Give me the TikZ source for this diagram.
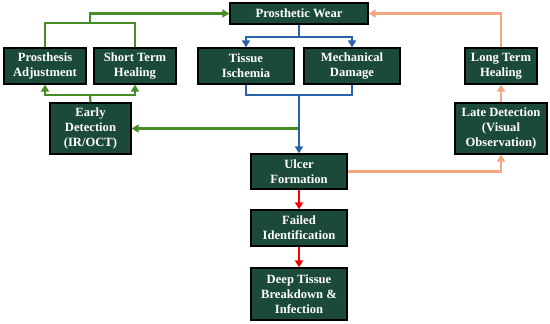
\documentclass[tikz,border=0pt]{standalone}
\usepackage{fontspec}
\setmainfont{Liberation Serif}
\usepackage{xcolor}
\usetikzlibrary{positioning,arrows.meta,calc}

\definecolor{boxGreen}{RGB}{28,74,56}
\definecolor{lineGreen}{RGB}{72,140,40}
\definecolor{lineBlue}{RGB}{40,98,168}
\definecolor{lineOrange}{RGB}{244,166,128}
\definecolor{lineRed}{RGB}{255,0,0}

\begin{document}
\begin{tikzpicture}[
  x=1pt, y=-1pt,
  stageBox/.style={draw=black, line width=1.2pt, fill=boxGreen, text=white,
                   font=\fontsize{12.6}{15}\selectfont\bfseries, align=center,
                   inner sep=0pt},
  flow/.style={line width=2.2pt},
  arr/.style={flow, -{Triangle[length=7pt,width=8pt]}},
  greenFlow/.style={color=lineGreen},
  blueFlow/.style={color=lineBlue},
  orangeFlow/.style={color=lineOrange},
  redFlow/.style={color=lineRed}
]
  \useasboundingbox (0,0) rectangle (550,324);

  % Top of the loop
  \node[stageBox, minimum width=138pt, minimum height=21pt] (wear) at (299,13.5) {Prosthetic Wear};

  % Second row
  \node[stageBox, minimum width=82pt, minimum height=36pt] (adj) at (45,66) {Prosthesis\\Adjustment};
  \node[stageBox, minimum width=82pt, minimum height=36pt] (sth) at (135,66) {Short Term\\Healing};
  \node[stageBox, minimum width=96pt, minimum height=36pt] (isch) at (246,66) {Tissue\\Ischemia};
  \node[stageBox, minimum width=96pt, minimum height=36pt] (mech) at (352,66) {Mechanical\\Damage};
  \node[stageBox, minimum width=72pt, minimum height=36pt] (lth) at (501,66) {Long Term\\Healing};

  % Detection
  \node[stageBox, minimum width=81pt, minimum height=51pt] (early) at (90.5,128.5) {Early\\Detection\\(IR/OCT)};
  \node[stageBox, minimum width=92pt, minimum height=51pt] (late) at (501,128.5) {Late Detection\\(Visual\\Observation)};

  % Central column
  \node[stageBox, minimum width=96pt, minimum height=35pt] (ulcer) at (299,171.5) {Ulcer\\Formation};
  \node[stageBox, minimum width=96pt, minimum height=36pt] (failed) at (299,228) {Failed\\Identification};
  \node[stageBox, minimum width=96pt, minimum height=52pt] (deep) at (299,294) {Deep Tissue\\Breakdown \&\\Infection};

  % Junction points
  \coordinate (gJoin) at (90,23);
  \coordinate (gSplit) at (90,95);
  \coordinate (bSplit) at (299,37);
  \coordinate (bJoin) at (299,95);
  \coordinate (bTap) at (299,128.5);

  % Green: early detection path
  \draw[flow, greenFlow] (adj.north) |- (gJoin) -| (sth.north);
  \draw[arr, greenFlow] (gJoin) |- (wear.west);
  \draw[flow, greenFlow] (early.north) -- (gSplit);
  \draw[arr, greenFlow] (gSplit) -| (adj.south);
  \draw[arr, greenFlow] (gSplit) -| (sth.south);
  \draw[arr, greenFlow] (bTap) -- (early.east);

  % Blue: damage path
  \draw[flow, blueFlow] (wear.south) -- (bSplit);
  \draw[arr, blueFlow] (bSplit) -| (isch.north);
  \draw[arr, blueFlow] (bSplit) -| (mech.north);
  \draw[flow, blueFlow] (isch.south) |- (bJoin) -| (mech.south);
  \draw[arr, blueFlow] (bJoin) -- (ulcer.north);

  % Orange: late detection path
  \draw[arr, orangeFlow] (ulcer.east) -| (late.south);
  \draw[arr, orangeFlow] (late.north) -- (lth.south);
  \draw[arr, orangeFlow] (lth.north) |- (wear.east);

  % Red: failure path
  \draw[arr, redFlow] (ulcer.south) -- (failed.north);
  \draw[arr, redFlow] (failed.south) -- (deep.north);
\end{tikzpicture}
\end{document}
